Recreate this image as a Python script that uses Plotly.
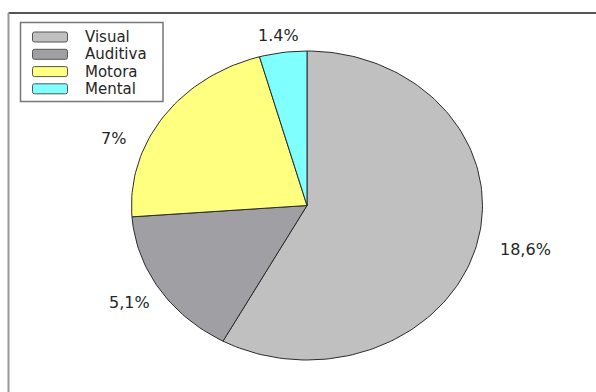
import math
import plotly.graph_objects as go

# Data
categories = ["Visual", "Auditiva", "Motora", "Mental"]
values = [18.6, 5.1, 7.0, 1.4]
value_labels = ["18,6%", "5,1%", "7%", "1.4%"]
colors = ["#c0c0c0", "#a0a0a4", "#ffff80", "#80ffff"]

# Canvas and pie geometry (pixel-like coordinates, y grows downward)
W, H = 596, 392
CX, CY = 307.0, 205.5
RX, RY = 175.5, 154.5
label_pos = [(525, 249), (129, 302), (113, 138), (278, 35)]
TEXT_COLOR = "#262626"

fig = go.Figure()

total = sum(values)
start = 0.0
for name, val, col in zip(categories, values, colors):
    a0 = start / total * 2 * math.pi
    a1 = (start + val) / total * 2 * math.pi
    n = max(8, int(240 * val / total))
    xs, ys = [CX], [CY]
    for i in range(n + 1):
        a = a0 + (a1 - a0) * i / n
        xs.append(CX + RX * math.sin(a))
        ys.append(CY - RY * math.cos(a))
    xs.append(CX)
    ys.append(CY)
    fig.add_trace(go.Scatter(
        x=xs, y=ys, mode="lines", fill="toself", fillcolor=col,
        line=dict(color="#2b2b2b", width=1), name=name,
        showlegend=False, hoverinfo="skip",
    ))
    start += val

# Value labels
for (lx, ly), txt in zip(label_pos, value_labels):
    fig.add_annotation(x=lx, y=ly, text=txt, showarrow=False,
                       font=dict(family="DejaVu Sans", size=16, color=TEXT_COLOR),
                       xanchor="center", yanchor="middle")


def rounded_rect(x0, y0, x1, y1, r):
    return (f"M {x0 + r},{y0} L {x1 - r},{y0} Q {x1},{y0} {x1},{y0 + r} "
            f"L {x1},{y1 - r} Q {x1},{y1} {x1 - r},{y1} "
            f"L {x0 + r},{y1} Q {x0},{y1} {x0},{y1 - r} "
            f"L {x0},{y0 + r} Q {x0},{y0} {x0 + r},{y0} Z")


shapes = []
# Outer frame (top and left edges)
shapes.append(dict(type="line", x0=8.5, y0=13, x1=W + 5, y1=13,
                   line=dict(color="#555555", width=2)))
shapes.append(dict(type="line", x0=8.5, y0=13, x1=8.5, y1=H + 5,
                   line=dict(color="#999999", width=2)))

# Legend box
shapes.append(dict(type="rect", x0=20.5, y0=22.5, x1=163, y1=101.5,
                   line=dict(color="#777777", width=1.5), fillcolor="white"))
row_y = [37, 54.3, 71.6, 88.8]
for name, col, ry in zip(categories, colors, row_y):
    shapes.append(dict(type="path", path=rounded_rect(32.5, ry - 5, 67.5, ry + 5, 2),
                       line=dict(color="#555555", width=1), fillcolor=col))
    fig.add_annotation(x=83, y=ry, text=name, showarrow=False,
                       font=dict(family="DejaVu Sans", size=15, color=TEXT_COLOR),
                       xanchor="left", yanchor="middle")

fig.update_layout(
    width=W, height=H,
    margin=dict(l=0, r=0, t=0, b=0),
    paper_bgcolor="white", plot_bgcolor="white",
    xaxis=dict(range=[0, W], visible=False, fixedrange=True),
    yaxis=dict(range=[H, 0], visible=False, fixedrange=True),
    shapes=shapes,
    showlegend=False,
)

fig.write_html("out.html", config={"displayModeBar": False})
